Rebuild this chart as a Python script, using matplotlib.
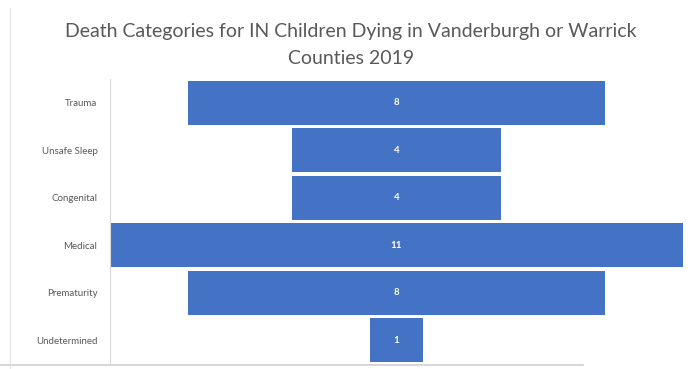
import matplotlib.pyplot as plt
from matplotlib.lines import Line2D

# funnel chart data (top to bottom)
categories = ['Trauma', 'Unsafe Sleep', 'Congenital', 'Medical', 'Prematurity', 'Undetermined']
deaths = [8, 4, 4, 11, 8, 1]

plt.rcParams['font.family'] = ['Lato', 'DejaVu Sans']

fig = plt.figure(figsize=(6.9, 3.69), dpi=100)
W, H = 690, 369
ax = fig.add_axes([110 / W, 1 - 364 / H, 573 / W, 285 / H])

ypos = list(range(len(categories)))
lefts = [-v / 2 for v in deaths]
ax.barh(ypos, deaths, left=lefts, height=0.93, color='#4472C4')
for y, v in zip(ypos, deaths):
    ax.text(0, y, str(v), color='white', ha='center', va='center', fontsize=7, fontweight='bold')

ax.set_xlim(-5.5, 5.5)
ax.set_ylim(len(categories) - 0.5, -0.5)
ax.set_yticks(ypos)
ax.set_yticklabels(categories, fontsize=7, color='#595959')
ax.tick_params(axis='y', length=0, pad=9)
ax.set_xticks([])
for s in ['top', 'right', 'bottom']:
    ax.spines[s].set_visible(False)
ax.spines['left'].set_color('#d9d9d9')

fig.text(351 / W, 1 - 31 / H, 'Death Categories for IN Children Dying in Vanderburgh or Warrick',
         ha='center', va='center', fontsize=14, color='#595959')
fig.text(351 / W, 1 - 59 / H, 'Counties 2019',
         ha='center', va='center', fontsize=14, color='#595959')

# screenshot border remnants
fig.add_artist(Line2D([10 / W, 10 / W], [0, 1 - 8 / H], color='#e6e6e6', lw=1))
fig.add_artist(Line2D([0, 583 / W], [1 - 365 / H, 1 - 365 / H], color='#d0d0d0', lw=1.2))

fig.savefig('out.png', dpi=100)
